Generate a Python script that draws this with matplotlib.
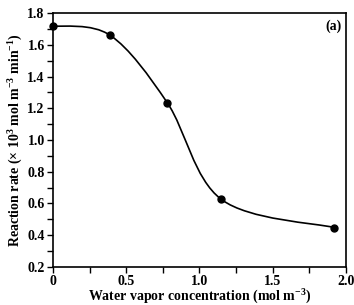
import numpy as np
import matplotlib
matplotlib.use("Agg")
import matplotlib.pyplot as plt
from matplotlib.path import Path
from matplotlib.patches import PathPatch
from matplotlib.ticker import MultipleLocator, FixedLocator

plt.rcParams["font.family"] = ["Liberation Serif", "DejaVu Serif"]
plt.rcParams["font.weight"] = "bold"
plt.rcParams["mathtext.fontset"] = "custom"
plt.rcParams["mathtext.rm"] = "Liberation Serif:bold"
plt.rcParams["mathtext.bf"] = "Liberation Serif:bold"
plt.rcParams["mathtext.default"] = "bf"

# data
conc = [0.0, 0.39, 0.78, 1.15, 1.92]
rate = [1.72, 1.66, 1.235, 0.625, 0.448]
xticks = [0, 0.5, 1.0, 1.5, 2.0]
xticklabels = ["0", "0.5", "1.0", "1.5", "2.0"]
yticks = [0.2, 0.4, 0.6, 0.8, 1.0, 1.2, 1.4, 1.6, 1.8]

fig = plt.figure(figsize=(3.54, 3.05), dpi=100)
ax = fig.add_axes([0.150, 0.125, 0.827, 0.832])

# smoothed line (Catmull-Rom style bezier, like a spreadsheet "smooth line")
pts = np.column_stack([conc, rate])
verts = [pts[0]]
codes = [Path.MOVETO]
for i in range(len(pts) - 1):
    p0 = pts[max(i - 1, 0)]
    p1 = pts[i]
    p2 = pts[i + 1]
    p3 = pts[min(i + 2, len(pts) - 1)]
    c1 = p1 + (p2 - p0) / 6
    c2 = p2 - (p3 - p1) / 6
    verts += [c1, c2, p2]
    codes += [Path.CURVE4] * 3
ax.add_patch(PathPatch(Path(verts, codes), fill=False, lw=1.2, color="black"))
ax.plot(conc, rate, "o", color="black", ms=5, clip_on=False, zorder=3)

ax.set_xlim(0, 2.0)
ax.set_ylim(0.2, 1.8)
ax.xaxis.set_major_locator(FixedLocator(xticks))
ax.set_xticklabels(xticklabels)
ax.xaxis.set_minor_locator(MultipleLocator(0.25))
ax.set_yticks(yticks)
ax.set_yticklabels([f"{v:.1f}" for v in yticks])
ax.yaxis.set_minor_locator(MultipleLocator(0.1))
ax.tick_params(which="both", direction="out", length=4, width=1, labelsize=10, pad=2)
for s in ax.spines.values():
    s.set_linewidth(1.2)

ax.set_xlabel("Water vapor concentration (mol m$^{-3}$)", fontsize=10,
              fontweight="bold", labelpad=0)
ax.set_ylabel("Reaction rate (× 10$^{3}$ mol m$^{-3}$ min$^{-1}$)",
              fontsize=10, fontweight="bold", labelpad=2)
ax.text(0.985, 0.975, "(a)", transform=ax.transAxes, ha="right", va="top",
        fontsize=10, fontweight="bold")

fig.savefig("out.png", dpi=100)
